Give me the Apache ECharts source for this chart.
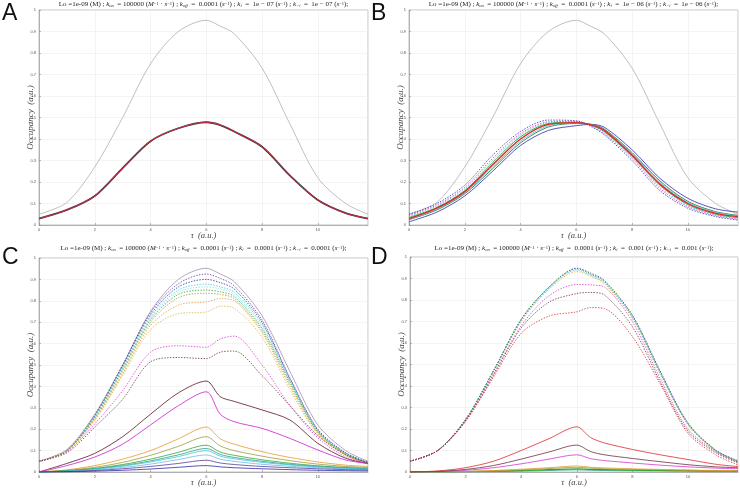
<!DOCTYPE html>
<html>
<head>
<meta charset="utf-8">
<script src="https://cdn.jsdelivr.net/npm/echarts@6/dist/echarts.min.js"></script>
<style>
  html, body { margin: 0; padding: 0; background: #fff; }
  #main { width: 740px; height: 488px; }
</style>
</head>
<body>
<div id="main"></div>
<script>
// sample times (a.u.)
const tau = [0, 1, 2, 3, 4, 5, 6, 6.5, 7, 8, 9, 10, 11, 11.8]

// reference stimulus curve (gray)
const refCurve = [0.05, 0.105, 0.27, 0.50, 0.75, 0.90, 0.952, 0.925, 0.89, 0.73, 0.47, 0.22, 0.10, 0.05]

// panel A
const aMain = [0.03, 0.07, 0.135, 0.265, 0.39, 0.45, 0.478, 0.465, 0.435, 0.364, 0.23, 0.116, 0.055, 0.03]

// panel B
const bBlueDot = [0.05, 0.10, 0.185, 0.325, 0.435, 0.488, 0.485, 0.46, 0.42, 0.30, 0.16, 0.078, 0.039, 0.023]
const bMagDot = [0.045, 0.093, 0.175, 0.31, 0.425, 0.48, 0.482, 0.463, 0.425, 0.31, 0.17, 0.085, 0.043, 0.027]
const bCyanDot = [0.04, 0.088, 0.168, 0.30, 0.418, 0.476, 0.48, 0.465, 0.43, 0.315, 0.178, 0.09, 0.047, 0.03]
const bGreen = [0.035, 0.082, 0.16, 0.29, 0.41, 0.472, 0.478, 0.466, 0.435, 0.32, 0.185, 0.095, 0.05, 0.034]
const bRed = [0.03, 0.078, 0.155, 0.28, 0.40, 0.468, 0.476, 0.467, 0.44, 0.325, 0.19, 0.10, 0.054, 0.039]
const bCyan = [0.028, 0.074, 0.15, 0.27, 0.39, 0.462, 0.474, 0.468, 0.443, 0.332, 0.198, 0.105, 0.058, 0.042]
const bDkGreen = [0.025, 0.07, 0.145, 0.262, 0.382, 0.456, 0.472, 0.469, 0.447, 0.337, 0.205, 0.11, 0.062, 0.045]
const bBlue = [0.015, 0.06, 0.135, 0.25, 0.37, 0.44, 0.462, 0.468, 0.455, 0.35, 0.217, 0.124, 0.075, 0.06]

// panel C, dotted
const cPurpleDot = [0.05, 0.10, 0.265, 0.50, 0.745, 0.88, 0.925, 0.905, 0.87, 0.71, 0.44, 0.20, 0.09, 0.045]
const cBlueDot = [0.05, 0.10, 0.262, 0.495, 0.735, 0.865, 0.90, 0.885, 0.855, 0.70, 0.435, 0.195, 0.088, 0.044]
const cCyanDot = [0.05, 0.10, 0.26, 0.49, 0.725, 0.85, 0.878, 0.865, 0.84, 0.69, 0.43, 0.192, 0.086, 0.043]
const cLtCyanDot = [0.05, 0.10, 0.258, 0.485, 0.718, 0.84, 0.865, 0.855, 0.83, 0.68, 0.425, 0.19, 0.085, 0.042]
const cGreenDot = [0.05, 0.10, 0.255, 0.48, 0.71, 0.83, 0.85, 0.842, 0.82, 0.67, 0.42, 0.188, 0.084, 0.041]
const cOliveDot = [0.05, 0.10, 0.25, 0.47, 0.70, 0.815, 0.835, 0.83, 0.81, 0.66, 0.41, 0.185, 0.082, 0.04]
const cOrangeDot = [0.05, 0.099, 0.245, 0.46, 0.685, 0.78, 0.795, 0.81, 0.80, 0.65, 0.40, 0.18, 0.08, 0.038]
const cYellowDot = [0.05, 0.098, 0.24, 0.45, 0.665, 0.74, 0.748, 0.775, 0.765, 0.63, 0.385, 0.175, 0.077, 0.036]
const cMagDot = [0.05, 0.095, 0.225, 0.38, 0.56, 0.59, 0.583, 0.622, 0.635, 0.50, 0.31, 0.16, 0.07, 0.04]
const cDarkDot = [0.05, 0.09, 0.21, 0.34, 0.515, 0.535, 0.53, 0.56, 0.565, 0.45, 0.31, 0.17, 0.08, 0.045]
// panel C, solid
const cBrown = [0, 0.04, 0.087, 0.165, 0.27, 0.37, 0.425, 0.352, 0.33, 0.29, 0.243, 0.134, 0.064, 0.04]
const cMag = [0, 0.03, 0.07, 0.13, 0.22, 0.31, 0.375, 0.27, 0.235, 0.204, 0.157, 0.103, 0.056, 0.04]
const cOrange = [0, 0.01, 0.03, 0.06, 0.10, 0.155, 0.21, 0.155, 0.13, 0.095, 0.068, 0.047, 0.032, 0.026]
const cOlive = [0, 0.008, 0.022, 0.045, 0.078, 0.12, 0.165, 0.122, 0.10, 0.074, 0.053, 0.037, 0.026, 0.021]
const cGreen = [0, 0.006, 0.017, 0.035, 0.06, 0.092, 0.125, 0.093, 0.078, 0.057, 0.041, 0.029, 0.021, 0.017]
const cTeal = [0, 0.005, 0.015, 0.03, 0.052, 0.08, 0.11, 0.082, 0.068, 0.05, 0.036, 0.026, 0.019, 0.015]
const cCyan = [0, 0.004, 0.013, 0.027, 0.047, 0.072, 0.10, 0.074, 0.062, 0.045, 0.033, 0.024, 0.017, 0.014]
const cLtBlue = [0, 0.003, 0.01, 0.021, 0.037, 0.058, 0.08, 0.06, 0.05, 0.036, 0.027, 0.02, 0.014, 0.012]
const cPurple = [0, 0.002, 0.007, 0.015, 0.026, 0.04, 0.055, 0.042, 0.035, 0.026, 0.02, 0.015, 0.011, 0.009]
const cBlue = [0, 0.001, 0.004, 0.008, 0.014, 0.022, 0.03, 0.024, 0.02, 0.015, 0.011, 0.008, 0.006, 0.005]

// panel D, dotted
const dGreenDot = [0.05, 0.10, 0.245, 0.47, 0.71, 0.86, 0.945, 0.92, 0.885, 0.725, 0.465, 0.225, 0.10, 0.05]
const dBlueDot = [0.05, 0.10, 0.245, 0.47, 0.71, 0.86, 0.948, 0.925, 0.89, 0.73, 0.47, 0.228, 0.102, 0.052]
const dCyanDot = [0.05, 0.10, 0.244, 0.468, 0.705, 0.855, 0.94, 0.915, 0.88, 0.72, 0.46, 0.222, 0.099, 0.049]
const dOrangeDot = [0.05, 0.10, 0.243, 0.465, 0.70, 0.85, 0.932, 0.91, 0.875, 0.715, 0.455, 0.22, 0.097, 0.048]
const dMagDot = [0.05, 0.10, 0.24, 0.455, 0.68, 0.82, 0.872, 0.87, 0.86, 0.70, 0.435, 0.20, 0.095, 0.045]
const dDarkDot = [0.05, 0.10, 0.238, 0.45, 0.67, 0.79, 0.83, 0.835, 0.823, 0.676, 0.42, 0.19, 0.09, 0.042]
const dRedDot = [0.05, 0.10, 0.235, 0.44, 0.645, 0.725, 0.745, 0.765, 0.76, 0.63, 0.41, 0.18, 0.08, 0.033]
// panel D, solid
const dRed = [0, 0.005, 0.02, 0.05, 0.10, 0.155, 0.21, 0.16, 0.135, 0.105, 0.08, 0.058, 0.036, 0.025]
const dBrown = [0, 0.003, 0.012, 0.03, 0.06, 0.093, 0.125, 0.095, 0.08, 0.063, 0.048, 0.034, 0.024, 0.02]
const dMag = [0, 0.002, 0.008, 0.02, 0.038, 0.06, 0.08, 0.062, 0.053, 0.042, 0.032, 0.024, 0.018, 0.015]
const dOrange = [0, 0.001, 0.003, 0.007, 0.013, 0.02, 0.028, 0.022, 0.019, 0.015, 0.012, 0.009, 0.007, 0.006]
const dOlive = [0, 0.001, 0.002, 0.005, 0.01, 0.016, 0.022, 0.018, 0.015, 0.012, 0.01, 0.008, 0.006, 0.005]
const dGreen = [0, 0, 0.002, 0.004, 0.007, 0.011, 0.015, 0.012, 0.011, 0.009, 0.007, 0.006, 0.005, 0.004]
const dTeal = [0, 0, 0.001, 0.002, 0.004, 0.007, 0.01, 0.008, 0.007, 0.006, 0.005, 0.004, 0.003, 0.003]

// rate constants shown in the titles
const kiLabels = ['1e − 07', '1e − 06', '0.0001', '0.001']
const panelLetters = ['A', 'B', 'C', 'D']

const col = {
  gray: '#a4a4a4', grayPurple: '#a48fae', blue: '#2a2aa8', magenta: '#d236d2', cyan: '#3cc8d8',
  ltcyan: '#86e0e0', green: '#2fa63a', red: '#e02a2a', orange: '#e69a2c', olive: '#9c9c34',
  teal: '#2a9c88', dkgreen: '#1f6a2e', brown: '#6c2e40', ltblue: '#74b6e6', purple: '#5a3c98',
  yellow: '#dcb43c', black: '#333333'
}

const grids = [
  { left: 39, top: 10, width: 329, height: 215 },
  { left: 409, top: 10, width: 329, height: 215 },
  { left: 39, top: 258, width: 329, height: 214 },
  { left: 410, top: 257, width: 328, height: 215 }
]
const titleTops = [1, 1, 245, 245]

const serif = '"Liberation Serif", "DejaVu Serif", serif'

// one line series on grid g
const mk = (g, vals, color, dotted, width) => ({
  type: 'line',
  xAxisIndex: g,
  yAxisIndex: g,
  data: tau.map((t, i) => [t, vals[i]]),
  showSymbol: false,
  smooth: 0.3,
  silent: true,
  lineStyle: { color: color, width: width || 0.8, type: dotted ? [1.4, 1.4] : 'solid' }
})

const series = [
  // A
  mk(0, refCurve, col.gray, false, 0.7),
  mk(0, aMain, col.black, false, 1.8),
  mk(0, aMain, col.magenta, true, 0.9),
  mk(0, aMain, col.red, false, 0.8),
  // B
  mk(1, refCurve, col.gray, false, 0.7),
  mk(1, bBlue, col.blue, false, 0.8),
  mk(1, bDkGreen, col.dkgreen, false, 0.8),
  mk(1, bCyan, col.cyan, false, 0.8),
  mk(1, bGreen, col.green, false, 0.9),
  mk(1, bCyanDot, col.cyan, true, 0.8),
  mk(1, bMagDot, col.magenta, true, 0.8),
  mk(1, bBlueDot, col.blue, true, 0.8),
  mk(1, bRed, col.orange, true, 0.8),
  mk(1, bRed, col.red, false, 1.4),
  // C
  mk(2, refCurve, col.grayPurple, false, 0.8),
  mk(2, cPurpleDot, col.purple, true, 0.8),
  mk(2, cBlueDot, col.blue, true, 0.8),
  mk(2, cCyanDot, col.cyan, true, 0.8),
  mk(2, cLtCyanDot, col.ltcyan, true, 0.8),
  mk(2, cGreenDot, col.green, true, 0.8),
  mk(2, cOliveDot, col.olive, true, 0.8),
  mk(2, cOrangeDot, col.orange, true, 0.8),
  mk(2, cYellowDot, col.yellow, true, 0.8),
  mk(2, cMagDot, col.magenta, true, 0.8),
  mk(2, cDarkDot, col.brown, true, 0.8),
  mk(2, cBrown, col.brown, false, 0.9),
  mk(2, cMag, col.magenta, false, 0.9),
  mk(2, cOrange, col.orange, false, 0.8),
  mk(2, cOlive, col.olive, false, 0.8),
  mk(2, cGreen, col.green, false, 0.8),
  mk(2, cTeal, col.teal, false, 0.8),
  mk(2, cCyan, col.cyan, false, 0.8),
  mk(2, cLtBlue, col.ltblue, false, 0.8),
  mk(2, cPurple, col.purple, false, 0.8),
  mk(2, cBlue, col.blue, false, 0.8),
  // D
  mk(3, dOrangeDot, col.orange, true, 0.8),
  mk(3, dCyanDot, col.cyan, true, 0.8),
  mk(3, dBlueDot, col.blue, true, 0.8),
  mk(3, dGreenDot, col.green, true, 0.9),
  mk(3, dMagDot, col.magenta, true, 0.8),
  mk(3, dDarkDot, col.brown, true, 0.8),
  mk(3, dRedDot, col.red, true, 0.8),
  mk(3, dTeal, col.teal, false, 0.8),
  mk(3, dGreen, col.green, false, 1.2),
  mk(3, dOlive, col.olive, false, 0.8),
  mk(3, dOrange, col.orange, false, 0.8),
  mk(3, dMag, col.magenta, false, 0.8),
  mk(3, dBrown, col.brown, false, 0.8),
  mk(3, dRed, col.red, false, 0.8)
]

const titleText = ki =>
  'Lo =1e-09 (M) ; {i|k}{s|on}  = 100000 ({i|M}{p|−1} · {i|s}{p|−1}) ; {i|k}{s|off}  =  0.0001 ({i|s}{p|−1}) ; ' +
  '{i|k}{s|i}  =  ' + ki + ' ({i|s}{p|−1}) ; {i|k}{s|−i}  =  ' + ki + ' ({i|s}{p|−1});'

const option = {
  animation: false,
  backgroundColor: '#fff',
  grid: grids.map(g => Object.assign({ show: true, borderColor: '#9a9a9a', borderWidth: 0.6 }, g)),
  title: grids.map((g, i) => ({
    text: titleText(kiLabels[i]),
    left: g.left + g.width / 2,
    top: titleTops[i],
    textAlign: 'center',
    padding: 0,
    textStyle: {
      fontFamily: serif, fontSize: 7, fontWeight: 'normal', color: '#222',
      rich: {
        i: { fontFamily: serif, fontSize: 7, fontStyle: 'italic', color: '#222' },
        s: { fontFamily: serif, fontSize: 4.5, fontStyle: 'italic', verticalAlign: 'bottom', color: '#222' },
        p: { fontFamily: serif, fontSize: 4.5, verticalAlign: 'top', color: '#222' }
      }
    }
  })),
  xAxis: grids.map((g, i) => ({
    type: 'value', gridIndex: i, min: 0, max: 11.8, interval: 2,
    name: 'τ  (a.u.)', nameLocation: 'middle', nameGap: 6, nameMoveOverlap: false,
    nameTextStyle: { fontFamily: serif, fontStyle: 'italic', fontSize: 8.5, color: '#444' },
    axisLine: { lineStyle: { color: '#8a8a8a', width: 0.6 } },
    axisTick: { inside: true, length: 2, lineStyle: { color: '#8a8a8a', width: 0.6 } },
    axisLabel: { fontSize: 4, margin: 3, color: '#555', showMaxLabel: false, fontFamily: 'Liberation Sans' },
    splitLine: { lineStyle: { color: '#ececec', width: 0.6 } }
  })),
  yAxis: grids.map((g, i) => ({
    type: 'value', gridIndex: i, min: 0, max: 1, interval: 0.1,
    name: 'Occupancy  (a.u.)', nameLocation: 'middle', nameGap: 4, nameMoveOverlap: false,
    nameTextStyle: { fontFamily: serif, fontStyle: 'italic', fontSize: 9, color: '#444' },
    axisLine: { lineStyle: { color: '#8a8a8a', width: 0.6 } },
    axisTick: { inside: true, length: 2, lineStyle: { color: '#8a8a8a', width: 0.6 } },
    axisLabel: {
      fontSize: 4, margin: 3, color: '#555', fontFamily: 'Liberation Sans',
      formatter: v => (Math.round(v * 10) / 10).toString()
    },
    splitLine: { lineStyle: { color: '#ececec', width: 0.6 } }
  })),
  graphic: panelLetters.map((t, i) => ({
    type: 'text',
    left: i % 2 === 0 ? 2 : 371,
    top: i < 2 ? 2 : 246,
    style: { text: t, fontFamily: '"Liberation Sans", Arial, sans-serif', fontSize: 23, fill: '#111' }
  })),
  series: series
}

const chart = echarts.init(document.getElementById('main'), null, { renderer: 'canvas' })
chart.setOption(option)
window.addEventListener('resize', () => chart.resize())
</script>
</body>
</html>
